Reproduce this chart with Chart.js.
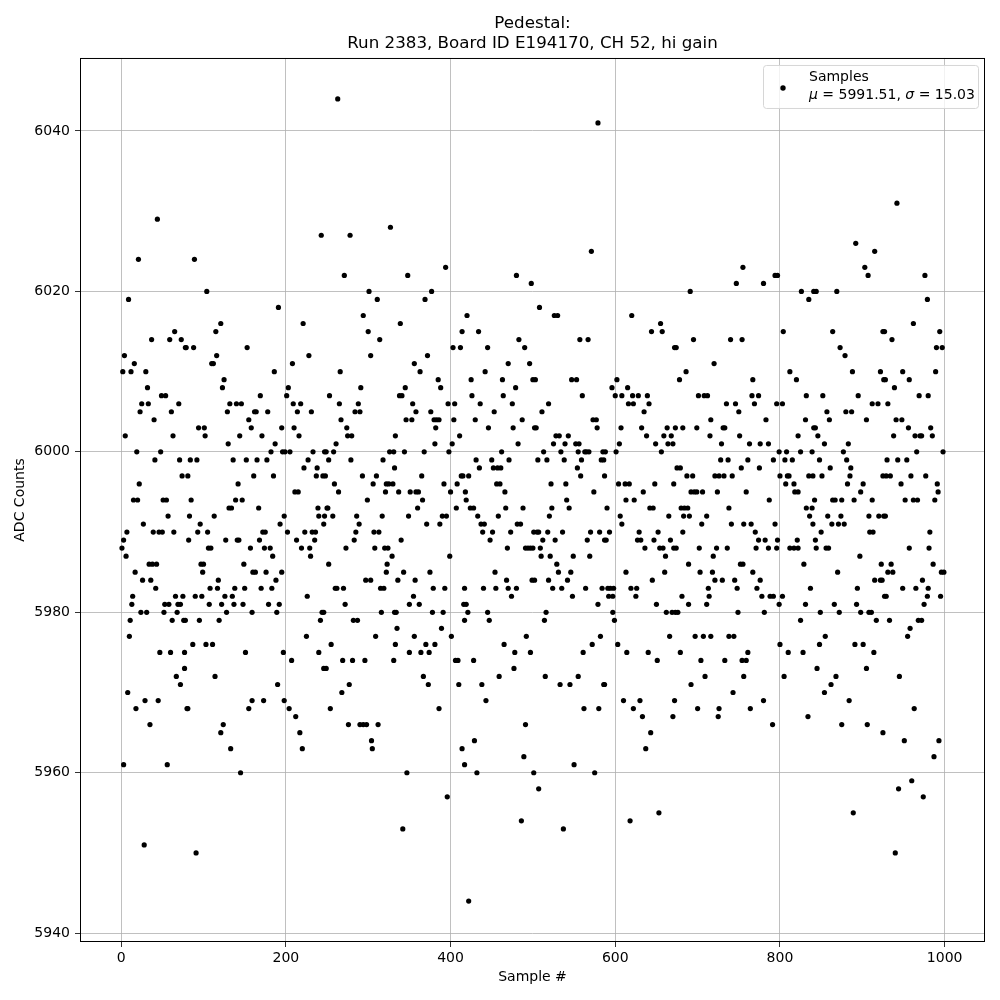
<!DOCTYPE html>
<html>
<head>
<meta charset="utf-8">
<title>Pedestal</title>
<script src="https://cdn.jsdelivr.net/npm/chart.js@4.4.1/dist/chart.umd.min.js"></script>
<style>
  html, body { margin: 0; padding: 0; background: #fff; }
  #chart { display: block; }
</style>
</head>
<body>
<canvas id="chart" width="1000" height="1000"></canvas>
<script>
const titleLines = [`Pedestal:`, `Run 2383, Board ID E194170, CH 52, hi gain`];
const xTicks = [0, 200, 400, 600, 800, 1000];
const yTicks = [5940, 5960, 5980, 6000, 6020, 6040];
const legendLabel = `Samples`;
const legendMean = `5991.51`;
const legendSigma = `15.03`;

// sample index of each dot
const sampleNo = [
  44,21,9,37,59,65,73,78,4,2,12,16,30,32,25,33,23,49,54,70,61,40,5,63,19,48,41,71,74,22,15,20,51,55,57,27,7,39,46,50,64,3,1,6,34,38,43,17,26,36,42,14,13,24,31,53,58,52,66,75,69,72,68,62,76,11,10,47,60,77,67,72,8,29,45,18,35,3,56,28,
  89,104,79,88,121,115,153,116,110,112,125,123,132,140,146,129,162,155,158,144,94,101,102,130,136,152,161,84,92,81,85,142,139,147,131,134,83,113,96,93,105,82,127,141,143,106,109,157,149,97,100,99,160,118,108,117,150,138,90,98,126,135,107,122,137,148,128,159,78,95,119,87,103,111,151,77,114,80,81,155,159,124,121,133,145,91,
  243,191,221,228,208,186,203,201,169,209,218,164,178,214,231,171,195,210,216,187,182,196,199,205,233,247,165,177,185,227,222,237,245,238,211,215,167,239,240,246,198,193,202,172,175,168,213,223,232,236,235,174,181,184,219,229,230,163,176,195,170,183,188,226,179,192,189,244,242,225,197,240,207,246,190,173,198,204,212,217,220,
  263,327,278,271,301,311,294,300,314,303,266,253,291,265,288,284,290,267,274,275,280,261,249,258,252,279,326,331,318,248,259,264,293,310,306,322,325,330,321,299,250,251,247,257,286,317,289,285,307,313,283,273,308,320,324,329,323,322,252,297,303,260,262,270,315,319,272,246,316,332,282,287,309,255,333,269,281,296,249,277,268,254,276,290,294,298,312,304,305,
  348,394,377,369,339,403,412,414,372,356,363,385,388,338,341,345,354,397,405,346,353,358,376,380,383,386,382,404,381,411,333,344,368,402,398,332,365,337,351,358,361,366,392,400,413,415,408,360,349,371,387,390,395,407,340,399,336,343,357,375,379,393,417,355,350,362,334,378,391,416,335,389,356,401,370,381,350,364,374,331,406,409,367,373,410,386,414,347,396,342,
  480,498,420,434,445,483,490,442,470,496,425,463,500,479,426,464,436,475,453,487,430,446,476,502,482,462,431,450,435,452,457,461,471,422,418,466,456,460,419,424,428,467,488,433,458,437,441,481,485,439,451,473,501,448,469,491,494,497,500,454,440,455,468,470,480,474,499,419,421,417,445,447,492,465,478,497,428,477,459,438,443,491,429,489,417,432,501,486,422,
  579,571,508,526,530,557,567,503,547,553,560,519,511,573,577,504,578,525,528,532,543,552,563,568,585,506,517,513,534,538,539,556,555,559,565,583,586,554,558,522,540,574,541,544,523,520,505,507,518,536,512,527,509,510,521,549,570,581,566,587,569,529,531,546,542,519,502,524,535,548,564,584,579,516,514,582,572,561,515,533,545,555,586,562,580,550,575,507,537,
  620,655,657,644,672,602,596,615,600,608,621,628,639,641,616,622,635,607,632,638,649,663,659,668,664,670,588,605,601,656,587,604,612,617,648,671,634,613,623,590,642,646,606,608,665,593,589,629,627,631,652,647,636,654,658,661,667,671,613,660,645,591,594,598,592,597,619,626,625,650,662,669,597,599,666,603,614,640,651,587,610,630,622,633,670,643,637,618,653,
  755,747,691,695,740,754,674,686,678,720,701,708,712,735,746,750,716,682,699,731,733,673,715,751,729,728,737,753,721,726,732,742,675,679,687,694,692,696,699,706,724,680,684,688,738,683,690,711,705,741,756,682,674,702,723,736,689,719,752,755,703,718,721,730,745,713,748,681,714,689,711,673,676,749,697,707,716,738,744,679,704,733,754,709,756,692,743,700,726,725,672,
  794,797,780,826,841,835,804,812,820,767,774,769,766,796,803,832,831,841,783,822,763,776,786,825,839,799,808,792,806,815,761,775,800,809,811,835,840,807,817,759,818,822,787,832,839,836,840,765,794,770,774,782,771,786,797,796,812,817,821,822,829,767,776,772,778,788,792,803,837,799,831,781,825,800,761,810,828,759,805,764,780,834,791,
  892,915,903,907,844,869,864,925,873,879,888,922,926,852,895,857,860,880,887,912,919,905,843,846,854,883,877,848,861,851,881,886,885,901,898,925,882,890,864,867,875,912,842,858,874,863,871,878,908,920,926,850,843,909,913,844,856,859,897,923,870,915,922,924,894,927,866,893,849,872,898,908,911,917,855,848,891,901,914,845,905,868,862,854,884,875,906,925,889,
  942,976,979,962,927,936,994,990,997,949,989,928,939,957,969,980,931,941,948,938,956,964,970,972,983,985,966,998,930,943,954,929,934,959,977,947,991,992,988,952,962,967,928,982,957,981,986,935,931,937,949,965,973,980,979,996,999,995,975,929,968,972,933,958,955,945,963,951,993,987,944,960,974,940
];

// ADC counts of each dot, same order as sampleNo
const adcCounts = [
  6029,6024,6019,6014,6014,6015,6014,6013,6012,6010,6010,6011,6010,6008,6006,6006,6005,6007,6007,6006,6005,6004,6002,6002,6000,6000,5999,5999,5997,5996,5994,5994,5994,5994,5992,5991,5990,5990,5990,5990,5990,5989,5988,5987,5986,5986,5986,5985,5984,5984,5983,5982,5981,5980,5980,5981,5981,5980,5982,5982,5981,5981,5980,5979,5979,5979,5977,5975,5975,5973,5972,5971,5970,5969,5969,5968,5966,5961,5961,5951,
  6024,6020,6013,6013,6016,6015,6013,6012,6011,6011,6009,6008,6006,6006,6006,6005,6005,6004,6003,6002,6003,6003,6002,6001,5999,5999,5997,5999,5999,5997,5994,5996,5994,5994,5993,5993,5992,5992,5991,5990,5990,5989,5989,5989,5989,5988,5988,5988,5986,5986,5986,5985,5985,5984,5983,5983,5983,5983,5982,5982,5982,5982,5981,5981,5981,5981,5980,5980,5979,5979,5979,5976,5976,5976,5975,5975,5972,5968,5968,5968,5969,5966,5965,5963,5960,5950,
  6027,6018,6016,6012,6011,6010,6008,6007,6007,6006,6006,6005,6005,6005,6005,6002,6003,6003,6002,6001,6000,6000,6000,6000,6000,6000,5999,5999,5997,5999,5998,5997,5997,5998,5995,5995,5993,5993,5992,5991,5992,5991,5990,5990,5990,5989,5989,5990,5990,5990,5989,5988,5988,5987,5988,5988,5987,5985,5985,5985,5983,5983,5984,5982,5981,5981,5980,5980,5979,5977,5975,5975,5974,5973,5971,5969,5969,5968,5967,5965,5963,
  6044,6028,6027,6022,6020,6019,6017,6015,6014,6012,6010,6007,6008,6006,6006,6005,6005,6004,6003,6002,6002,6001,6000,6000,5999,5999,6000,6000,5999,5997,5996,5995,5997,5997,5996,5996,5996,5996,5995,5994,5993,5993,5992,5992,5992,5992,5991,5990,5990,5990,5989,5988,5988,5988,5988,5987,5986,5985,5986,5984,5984,5983,5983,5983,5983,5983,5981,5980,5980,5980,5979,5979,5977,5976,5976,5974,5974,5974,5973,5971,5970,5968,5966,5966,5966,5966,5966,5964,5963,
  6022,6023,6020,6019,6016,6013,6013,6015,6012,6011,6010,6009,6008,6007,6007,6008,6006,6006,6006,6004,6004,6005,6005,6004,6004,6004,6003,6004,6001,6002,6002,6000,6000,6001,6000,5998,5997,5995,5995,5995,5995,5994,5996,5995,5997,5997,5996,5993,5992,5991,5991,5992,5992,5993,5989,5987,5984,5985,5984,5985,5983,5983,5983,5982,5981,5981,5980,5980,5980,5981,5978,5978,5977,5977,5976,5976,5975,5975,5975,5974,5974,5974,5972,5971,5971,5968,5963,5960,5957,5953,
  6022,6021,6017,6015,6013,6014,6013,6010,6011,6011,6009,6009,6009,6008,6007,6007,6006,6006,6005,6004,6004,6003,6003,6003,6001,6000,5999,5999,5998,5998,5998,5998,5999,5997,5995,5995,5996,5996,5994,5993,5993,5993,5993,5992,5992,5991,5991,5991,5991,5990,5990,5990,5990,5989,5988,5988,5988,5988,5988,5985,5983,5983,5984,5983,5983,5982,5984,5981,5980,5979,5980,5979,5977,5976,5975,5975,5974,5973,5972,5971,5969,5966,5964,5962,5961,5960,5960,5954,5944,
  6041,6025,6018,6017,6017,6014,6014,6009,6009,6009,6007,6006,6005,6004,6004,6003,6003,6001,6002,6002,6002,6001,6000,6000,6000,5999,5999,6000,6000,5999,6001,6001,6000,5999,6000,5999,5999,5998,5997,5996,5996,5995,5994,5993,5993,5992,5990,5990,5990,5990,5989,5989,5988,5987,5987,5987,5990,5990,5989,5989,5987,5986,5985,5985,5984,5984,5984,5983,5983,5982,5983,5983,5981,5980,5979,5977,5976,5975,5972,5971,5971,5972,5971,5968,5968,5961,5960,5958,5953,
  6017,6016,6015,6015,6013,6009,6008,6008,6007,6007,6007,6007,6007,6006,6006,6006,6005,6003,6003,6002,6001,6003,6002,6002,6001,6001,6000,6001,6000,6000,5997,5996,5996,5996,5996,5996,5995,5994,5994,5993,5993,5993,5992,5991,5992,5990,5989,5990,5989,5989,5990,5989,5988,5988,5988,5987,5989,5988,5985,5985,5984,5983,5983,5983,5982,5982,5983,5983,5982,5981,5980,5980,5980,5979,5977,5976,5975,5975,5974,5971,5969,5969,5968,5967,5967,5965,5963,5954,5955,
  6023,6021,6020,6014,6014,6014,6013,6010,6009,6011,6007,6007,6007,6006,6006,6005,6004,6003,6003,6003,6003,6003,6002,6002,6001,5999,5999,5998,5997,5997,5997,5997,5998,5998,5997,5997,5995,5995,5995,5995,5995,5993,5993,5993,5993,5992,5992,5992,5991,5991,5991,5990,5988,5988,5988,5988,5986,5987,5986,5986,5985,5985,5984,5984,5984,5983,5983,5982,5982,5981,5981,5980,5980,5980,5977,5977,5977,5977,5977,5975,5974,5974,5974,5972,5972,5971,5970,5968,5968,5967,5969,
  6022,6022,6021,6020,6020,6019,6015,6010,6009,6009,6007,6006,6007,6006,6006,6007,6004,6003,6004,6002,6001,6001,6001,6000,6000,6000,6000,5999,5999,5999,5999,5998,5997,5997,5997,5997,5997,5996,5996,5995,5995,5995,5994,5993,5993,5992,5991,5991,5991,5990,5989,5989,5988,5988,5989,5988,5988,5988,5989,5988,5986,5985,5984,5983,5982,5982,5982,5982,5983,5981,5981,5980,5979,5976,5975,5975,5975,5974,5972,5968,5969,5967,5966,
  6026,6025,6023,6022,6020,6020,6015,6015,6013,6012,6010,6010,6009,6007,6007,6005,6004,6005,6005,6006,6006,6004,6003,6002,6001,6001,6000,5999,5998,5997,5999,5998,5997,5996,5995,5997,5996,5994,5994,5994,5994,5994,5994,5992,5992,5991,5991,5991,5992,5992,5992,5990,5989,5990,5990,5988,5988,5988,5987,5986,5985,5984,5984,5984,5983,5982,5981,5981,5980,5980,5980,5980,5980,5979,5977,5976,5976,5976,5975,5973,5973,5972,5971,5970,5969,5966,5966,5965,5955,
  6031,6022,6019,6016,6015,6014,6015,6013,6013,6010,6010,6009,6008,6009,6007,6007,6006,6004,6004,6002,6003,6002,6002,6002,6003,6002,6000,6000,5999,5999,5999,5997,5997,5997,5997,5996,5996,5995,5994,5994,5994,5994,5992,5990,5988,5988,5986,5986,5985,5985,5983,5983,5984,5983,5982,5985,5985,5982,5981,5982,5979,5979,5979,5978,5977,5972,5968,5964,5964,5962,5958,5959,5957,5950
];

const points = sampleNo.map((x, i) => ({x: x, y: adcCounts[i]}));

const fontFamily = `"DejaVu Sans", "Liberation Sans", sans-serif`;

// matplotlib style frame and legend box
const frameAndLegend = {
  id: `frameAndLegend`,
  afterDraw(chart) {
    const {ctx, chartArea: a} = chart;
    ctx.save();
    ctx.strokeStyle = `#000`;
    ctx.lineWidth = 1;
    ctx.strokeRect(a.left + 0.5, a.top + 0.5, a.right - a.left - 1, a.bottom - a.top - 1);

    const boxW = 215;
    const boxH = 43;
    const bx = a.right - 7 - boxW;
    const by = a.top + 7;
    ctx.beginPath();
    ctx.roundRect(bx + 0.5, by + 0.5, boxW, boxH, 3);
    ctx.fillStyle = `rgba(255,255,255,0.8)`;
    ctx.fill();
    ctx.strokeStyle = `#d6d6d6`;
    ctx.stroke();

    ctx.fillStyle = `#000`;
    ctx.beginPath();
    ctx.arc(bx + 20, by + 23, 2.7, 0, Math.PI * 2);
    ctx.fill();

    ctx.textBaseline = `middle`;
    ctx.textAlign = `left`;
    const tx = bx + 46;
    ctx.font = `14px ${fontFamily}`;
    ctx.fillText(legendLabel, tx, by + 12.5);

    const parts = [
      [`μ`, true], [` = ${legendMean}, `, false], [`σ`, true], [` = ${legendSigma}`, false]
    ];
    let x = tx;
    parts.forEach(([txt, italic]) => {
      ctx.font = `${italic ? `italic ` : ``}14px ${fontFamily}`;
      ctx.fillText(txt, x, by + 30.5);
      x += ctx.measureText(txt).width;
    });
    ctx.restore();
  }
};

new Chart(document.getElementById(`chart`), {
  type: `scatter`,
  data: {
    datasets: [{
      label: legendLabel,
      data: points,
      backgroundColor: `#000`,
      borderWidth: 0,
      pointRadius: 2.6,
      pointHoverRadius: 2.6
    }]
  },
  plugins: [frameAndLegend],
  options: {
    responsive: false,
    animation: false,
    layout: {
      padding: {left: 0, right: 15, top: 0, bottom: 0}
    },
    plugins: {
      legend: {display: false},
      tooltip: {enabled: false},
      title: {
        display: true,
        text: titleLines,
        fullSize: false,
        color: `#000`,
        font: {family: fontFamily, size: 16.7, weight: `normal`, lineHeight: 1.2},
        padding: {top: 13.6, bottom: 4.3}
      }
    },
    scales: {
      x: {
        type: `linear`,
        min: -49.95,
        max: 1048.95,
        afterBuildTicks: (scale) => {
          scale.ticks = xTicks.map((v) => ({value: v}));
        },
        afterFit: (scale) => {
          scale.height = 58;
        },
        border: {display: false},
        grid: {color: `#b0b0b0`, lineWidth: 0.8, tickColor: `#000`, tickLength: 5},
        ticks: {
          color: `#000`,
          padding: 3,
          maxRotation: 0,
          font: {family: fontFamily, size: 14},
          callback: (value) => String(value)
        },
        title: {
          display: true,
          text: `Sample #`,
          color: `#000`,
          font: {family: fontFamily, size: 14},
          padding: {top: 0, bottom: 14.6}
        }
      },
      y: {
        type: `linear`,
        min: 5938.9,
        max: 6049.1,
        afterBuildTicks: (scale) => {
          scale.ticks = yTicks.map((v) => ({value: v}));
        },
        afterFit: (scale) => {
          scale.width = 80;
        },
        border: {display: false},
        grid: {color: `#b0b0b0`, lineWidth: 0.8, tickColor: `#000`, tickLength: 5},
        ticks: {
          color: `#000`,
          padding: 5,
          font: {family: fontFamily, size: 14},
          callback: (value) => String(value)
        },
        title: {
          display: true,
          text: `ADC Counts`,
          color: `#000`,
          font: {family: fontFamily, size: 14},
          padding: {top: 11.6, bottom: 0}
        }
      }
    }
  }
});
</script>
</body>
</html>
